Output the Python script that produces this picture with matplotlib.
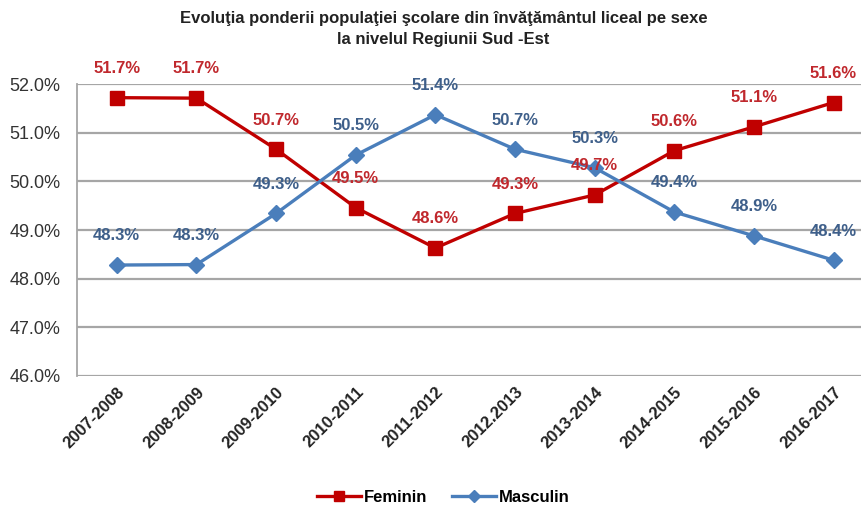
import matplotlib.pyplot as plt
from matplotlib.lines import Line2D

plt.rcParams['font.family'] = ['Liberation Sans', 'DejaVu Sans']

years = ['2007-2008', '2008-2009', '2009-2010', '2010-2011', '2011-2012',
         '2012.2013', '2013-2014', '2014-2015', '2015-2016', '2016-2017']
feminin = [51.72, 51.71, 50.66, 49.46, 48.63, 49.34, 49.72, 50.63, 51.12, 51.62]
masculin = [48.28, 48.29, 49.34, 50.54, 51.37, 50.66, 50.28, 49.37, 48.88, 48.38]
yticks = [46, 47, 48, 49, 50, 51, 52]

red = '#C00000'
blue = '#4A7EBB'
red_txt = '#C0282D'
blue_txt = '#3E5F8A'

fig = plt.figure(figsize=(8.61, 5.14), dpi=100)
ax = fig.add_axes([0.0894, 0.2685, 0.925, 0.568])

x = list(range(len(years)))
ax.plot(x, feminin, color=red, lw=2.4, marker='s', markersize=10, zorder=3)
ax.plot(x, masculin, color=blue, lw=2.4, marker='D', markersize=8, zorder=3)

for xi, v in zip(x, feminin):
    ax.annotate(f'{v:.1f}%', (xi, v), xytext=(0, 21), textcoords='offset points',
                ha='center', va='center', color=red_txt, fontsize=12, fontweight='bold', zorder=4)
for xi, v in zip(x, masculin):
    ax.annotate(f'{v:.1f}%', (xi, v), xytext=(0, 21), textcoords='offset points',
                ha='center', va='center', color=blue_txt, fontsize=12, fontweight='bold', zorder=4)

ax.set_xlim(-0.5, len(years) - 0.5)
ax.set_ylim(46, 52)
ax.set_yticks(yticks)
ax.set_yticklabels([f'{t:.1f}%' for t in yticks], fontsize=13, color='#333333')
ax.set_xticks(x)
ax.set_xticklabels(years, rotation=45, ha='right', va='top', rotation_mode='anchor',
                   fontsize=12, fontweight='bold', color='#222222')
ax.tick_params(axis='both', length=0)
ax.tick_params(axis='y', pad=12)
ax.tick_params(axis='x', pad=6)

ax.grid(axis='y', color='#A6A6A6', lw=1.6, zorder=0)
ax.set_axisbelow(True)
for s in ['top', 'right', 'bottom']:
    ax.spines[s].set_visible(False)
ax.spines['left'].set_color('#A6A6A6')
ax.spines['left'].set_linewidth(1.3)

fig.text(0.515, 0.978, 'Evoluţia ponderii populaţiei şcolare din învăţământul liceal pe sexe\nla nivelul Regiunii Sud -Est',
         ha='center', va='top', fontsize=12, fontweight='bold', color='#222222', linespacing=1.45)

handles = [Line2D([], [], color=red, lw=2.4, marker='s', markersize=7.5),
           Line2D([], [], color=blue, lw=2.4, marker='D', markersize=6)]
fig.legend(handles, ['Feminin', 'Masculin'], loc='center', bbox_to_anchor=(0.515, 0.033),
           ncol=2, frameon=False, handlelength=2.6, handletextpad=0.2,
           columnspacing=1.5, prop={'weight': 'bold', 'size': 12})

fig.savefig('out.png', dpi=100)
